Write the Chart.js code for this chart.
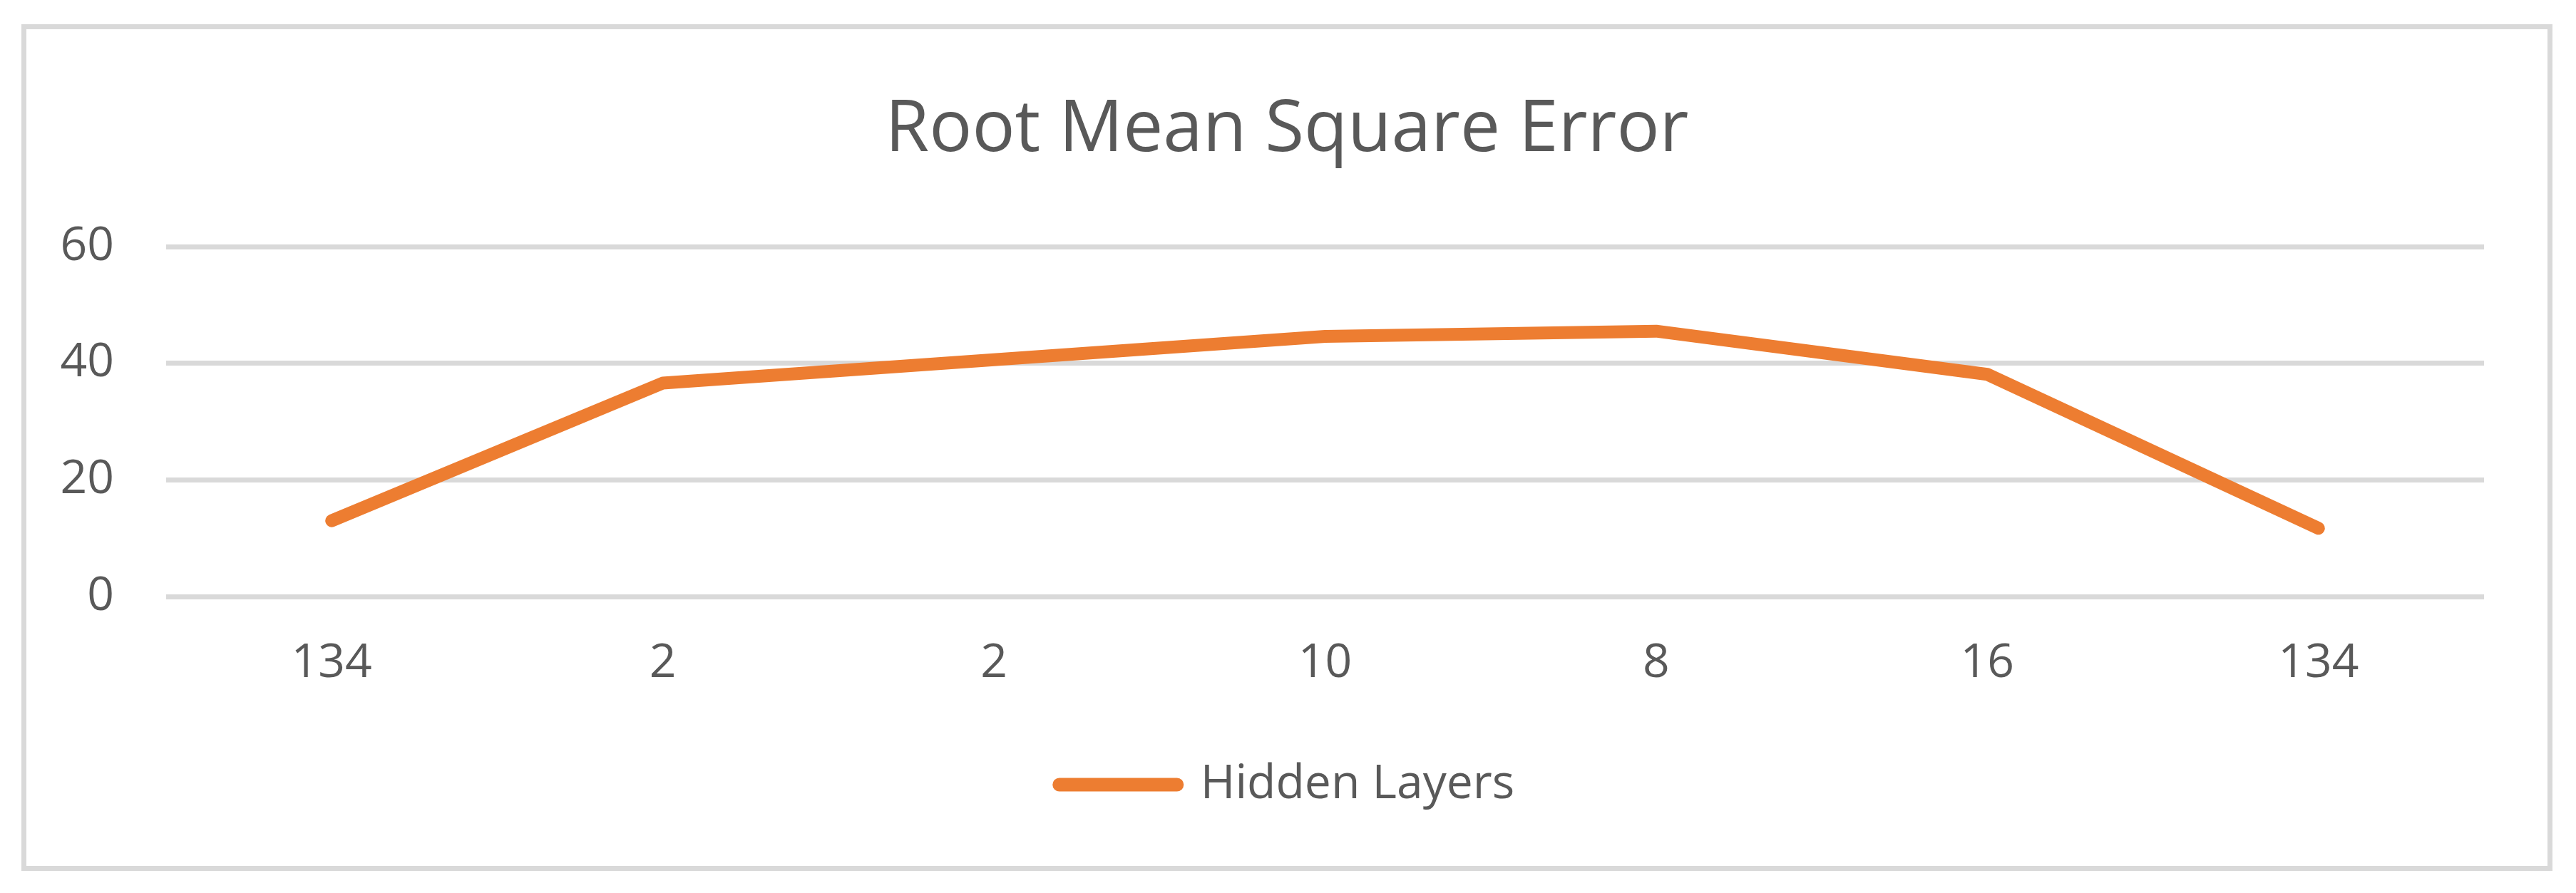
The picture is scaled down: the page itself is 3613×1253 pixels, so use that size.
<!DOCTYPE html>
<html>
<head>
<meta charset="utf-8">
<title>Root Mean Square Error</title>
<script src="https://cdn.jsdelivr.net/npm/chart.js@4.4.1/dist/chart.umd.min.js"></script>
<style>
    body { margin: 0; background: #ffffff; }
    #marco {
        position: absolute;
        left: 30px;
        top: 34px;
        width: 3550px;
        height: 1188px;
        border: 7px solid #D9D9D9;
        box-sizing: border-box;
        background: #ffffff;
    }
    #graficoRMSE { display: block; }
</style>
</head>
<body>
<div id="marco">
    <canvas id="graficoRMSE" width="3536" height="1174"></canvas>
</div>
<script>
// Datos del gráfico
const categorias = ['134', '2', '2', '10', '8', '16', '134'];
const valoresRMSE = [13.0, 36.6, 40.6, 44.6, 45.5, 38.1, 11.7];
const ticksEjeY = [0, 20, 40, 60];

const fuente = "'Open Sans', 'Liberation Sans', sans-serif";
const colorTexto = '#595959';
const colorRejilla = '#D9D9D9';
const colorLinea = '#ED7D31';

let graficoRMSE;

document.addEventListener('DOMContentLoaded', function() {
    let ctx = document.getElementById('graficoRMSE').getContext('2d');

    graficoRMSE = new Chart(ctx, {
        type: 'line',
        data: {
            labels: categorias,
            datasets: [{
                label: 'Hidden Layers',
                data: valoresRMSE,
                borderColor: colorLinea,
                backgroundColor: colorLinea,
                borderWidth: 18,
                borderCapStyle: 'round',
                borderJoinStyle: 'round',
                pointRadius: 0,
                pointHoverRadius: 0,
                tension: 0,
                fill: false
            }]
        },
        options: {
            responsive: false,
            animation: false,
            devicePixelRatio: 1,
            layout: {
                padding: { left: 0, right: 0, top: 0, bottom: 71 }
            },
            plugins: {
                title: {
                    display: true,
                    text: 'Root Mean Square Error',
                    color: colorTexto,
                    font: { family: fuente, size: 100, weight: 'normal' },
                    padding: { top: 83, bottom: 102 }
                },
                legend: {
                    display: true,
                    position: 'bottom',
                    labels: {
                        color: colorTexto,
                        font: { family: fuente, size: 66 },
                        usePointStyle: true,
                        pointStyle: 'line',
                        pointStyleWidth: 165,
                        boxHeight: 19,
                        padding: 10,
                        // linea de la leyenda con extremos redondeados
                        generateLabels: function(chart) {
                            const items = Chart.defaults.plugins.legend.labels.generateLabels(chart);
                            items.forEach(item => {
                                item.lineCap = 'round';
                                item.lineWidth = 19;
                                item.strokeStyle = colorLinea;
                            });
                            return items;
                        }
                    }
                },
                tooltip: { enabled: false }
            },
            scales: {
                x: {
                    offset: true,
                    grid: { display: false, drawTicks: false },
                    border: { display: false },
                    ticks: {
                        color: colorTexto,
                        font: { family: fuente, size: 66 },
                        padding: 55,
                        maxRotation: 0,
                        autoSkip: false
                    },
                    afterFit: function(eje) {
                        eje.height = 221;
                    }
                },
                y: {
                    min: 0,
                    max: 60,
                    grid: {
                        color: colorRejilla,
                        lineWidth: 7,
                        drawTicks: false
                    },
                    border: { display: false },
                    ticks: {
                        color: colorTexto,
                        font: { family: fuente, size: 66 },
                        padding: 73
                    },
                    afterBuildTicks: function(eje) {
                        eje.ticks = ticksEjeY.map(v => ({ value: v }));
                    },
                    afterFit: function(eje) {
                        eje.width = 196;
                    }
                },
                // eje vacío a la derecha para dejar el margen sin descentrar título y leyenda
                margen: {
                    type: 'linear',
                    position: 'right',
                    display: true,
                    grid: { display: false, drawTicks: false },
                    border: { display: false },
                    ticks: { display: false },
                    afterFit: function(eje) {
                        eje.width = 89;
                    }
                }
            }
        }
    });
});
</script>
</body>
</html>
